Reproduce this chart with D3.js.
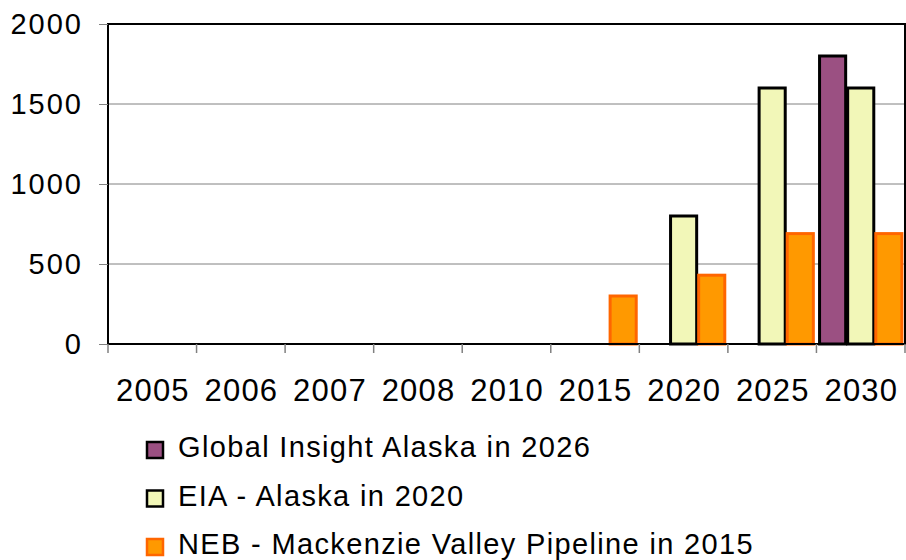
<!DOCTYPE html>
<html><head><meta charset="utf-8">
<script src="https://cdn.jsdelivr.net/npm/d3@7"></script>
<style>body{margin:0;background:#fff}svg{display:block}text{font-family:"Liberation Sans",Arial,sans-serif}</style>
</head><body>
<script>
const categories = ["2005","2006","2007","2008","2010","2015","2020","2025","2030"];
const seriesNames = ["Global Insight Alaska in 2026","EIA - Alaska in 2020","NEB - Mackenzie Valley Pipeline in 2015"];
const globalInsight = [0,0,0,0,0,0,0,0,1800];
const eia = [0,0,0,0,0,0,800,1600,1600];
const neb = [0,0,0,0,0,300,430,690,690];
const yTicks = [0,500,1000,1500,2000];
const fills = ["#9b5082","#f2f7b8","#ff9900"];
const strokes = ["#000000","#000000","#ff6600"];

const W=906,H=560;
const m={l:108,r:1,t:24,b:216};
const svg=d3.select("body").append("svg").attr("width",W).attr("height",H);
const x=d3.scaleBand().domain(categories).range([m.l,W-m.r]).paddingInner(0).paddingOuter(0);
const y=d3.scaleLinear().domain([0,2000]).range([H-m.b,m.t]);
const series=[globalInsight,eia,neb];
const xs=d3.scaleBand().domain([0,1,2]).range([0,x.bandwidth()]).paddingInner(0).paddingOuter(0.075);

// grid
svg.append("g").selectAll("line").data(yTicks.filter(d=>d>0&&d<2000)).join("line")
 .attr("x1",m.l).attr("x2",W-m.r).attr("y1",d=>y(d)).attr("y2",d=>y(d))
 .attr("stroke","#808080").attr("stroke-width",1);

// bars
series.forEach((vals,si)=>{
  svg.append("g").selectAll("rect").data(categories.map((c,i)=>({c,v:vals[i]})).filter(d=>d.v>0)).join("rect")
   .attr("x",d=>x(d.c)+xs(si)+1).attr("width",xs.bandwidth()-2)
   .attr("y",d=>y(d.v)).attr("height",d=>y(0)-y(d.v))
   .attr("fill",fills[si]).attr("stroke",strokes[si]).attr("stroke-width",3);
});

// frame
svg.append("rect").attr("x",m.l).attr("y",m.t).attr("width",W-m.r-m.l).attr("height",y(0)-m.t)
 .attr("fill","none").attr("stroke","#000").attr("stroke-width",2);

// y axis
const ya=svg.append("g").attr("transform",`translate(${m.l},0)`)
 .call(d3.axisLeft(y).tickValues(yTicks).tickFormat(d3.format("d")).tickSize(9).tickPadding(16));
ya.select(".domain").remove();
ya.selectAll("line").attr("stroke","#808080");
ya.selectAll("text").attr("font-size",29).attr("fill","#000").attr("dy","0.31em")
  .attr("letter-spacing","2px").style("font-family","Liberation Sans, Arial, sans-serif");

// x axis
const xa=svg.append("g").attr("transform",`translate(0,${y(0)})`)
 .call(d3.axisBottom(x).tickSize(0).tickPadding(35));
xa.select(".domain").remove();
xa.selectAll("text").attr("font-size",31).attr("fill","#000").attr("letter-spacing","1.2px")
  .attr("dx","0.6px").style("font-family","Liberation Sans, Arial, sans-serif");
// x tick marks at band boundaries
const bounds=categories.map(c=>x(c)).concat([x.range()[1]]);
svg.append("g").selectAll("line").data(bounds).join("line")
 .attr("x1",d=>d).attr("x2",d=>d).attr("y1",y(0)).attr("y2",y(0)+9)
 .attr("stroke","#808080").attr("stroke-width",1.5);

// legend
const lg=svg.append("g");
seriesNames.forEach((n,i)=>{
  const cy=450+i*48.5;
  lg.append("rect").attr("x",147).attr("y",cy-8).attr("width",16).attr("height",16)
   .attr("fill",fills[i]).attr("stroke",strokes[i]).attr("stroke-width",2.5);
  lg.append("text").attr("x",178).attr("y",cy+7).attr("font-size",29)
   .attr("letter-spacing","1.35px").text(n);
});
</script>
</body></html>
